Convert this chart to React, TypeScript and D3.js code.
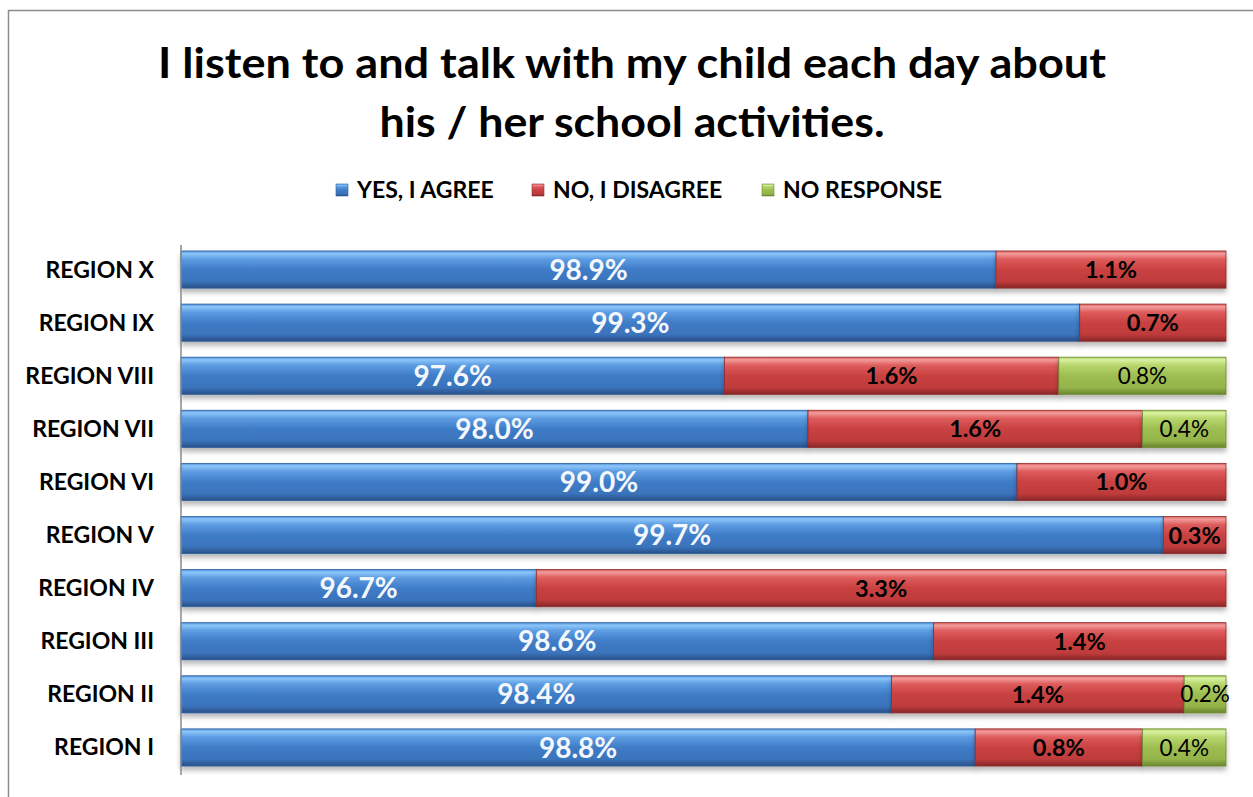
import React from "react";
import * as d3 from "d3";

const categories = ["REGION I", "REGION II", "REGION III", "REGION IV", "REGION V", "REGION VI", "REGION VII", "REGION VIII", "REGION IX", "REGION X"];
const yesValues = [98.8, 98.4, 98.6, 96.7, 99.7, 99.0, 98.0, 97.6, 99.3, 98.9];
const noValues = [0.8, 1.4, 1.4, 3.3, 0.3, 1.0, 1.6, 1.6, 0.7, 1.1];
const noResponseValues = [0.4, 0.2, 0, 0, 0, 0, 0.4, 0.8, 0, 0];
const seriesNames = ["YES, I AGREE", "NO, I DISAGREE", "NO RESPONSE"];
const seriesKeys = ["yes", "no", "nr"];
const xDomain = [95, 100];
const titleLines = ["I listen to and talk with my child each day about", "his / her school activities."];

const W = 1253;
const H = 797;
const FONT = "Lato, 'Open Sans', sans-serif";

const gradients: Record<string, string[][]> = {
  yes: [["0", "#4f8fd8"], ["0.07", "#8cc6fa"], ["0.22", "#5d9ce2"], ["0.5", "#3f7cc7"], ["0.82", "#3a73bb"], ["1", "#294f86"]],
  no: [["0", "#d85a5a"], ["0.07", "#f39c9c"], ["0.22", "#de5c5c"], ["0.5", "#c94141"], ["0.82", "#bf3b3b"], ["1", "#862727"]],
  nr: [["0", "#a9cc5e"], ["0.07", "#d9f2a2"], ["0.22", "#b7d66c"], ["0.5", "#9ebd52"], ["0.82", "#94b44a"], ["1", "#6a852e"]],
};
const strokeCol: Record<string, string> = { yes: "#2f5f9e", no: "#8e2c2c", nr: "#6f8a32" };

export default function App() {
  const table = categories.map((c, i) => ({ cat: c, yes: yesValues[i], no: noValues[i], nr: noResponseValues[i] }));
  const stack = d3.stack<any>().keys(seriesKeys);
  const stacked = stack(table);

  const x = d3.scaleLinear().domain(xDomain).range([181, 1226]);
  const y = d3.scaleBand<string>().domain([...categories].reverse()).range([243, 774]).paddingInner(0.3).paddingOuter(0.15);
  const bw = y.bandwidth();

  const labelStyle: Record<string, any> = {
    yes: { fill: "#f4f8fc", fontWeight: 700, fontSize: 28 },
    no: { fill: "#000000", fontWeight: 700, fontSize: 23.5 },
    nr: { fill: "#000000", fontWeight: 400, fontSize: 22.5 },
  };

  const legendItems = [
    { key: "yes", x: 336 },
    { key: "no", x: 532 },
    { key: "nr", x: 762 },
  ];

  return (
    <svg width={W} height={H} style={{ position: "absolute", left: 0, top: 0, background: "#fff" }} fontFamily={FONT}>
      <defs>
        {seriesKeys.map((k) => (
          <linearGradient key={k} id={"g-" + k} x1="0" y1="0" x2="0" y2="1">
            {gradients[k].map(([o, c]) => (
              <stop key={o} offset={o} stopColor={c} />
            ))}
          </linearGradient>
        ))}
        <filter id="shadow" x="-5%" y="-20%" width="110%" height="160%">
          <feDropShadow dx="0" dy="4" stdDeviation="2.5" floodColor="#000" floodOpacity="0.28" />
        </filter>
      </defs>
      <rect x={8.5} y={10.5} width={W + 20} height={H + 20} fill="#fff" stroke="#8c8c8c" strokeWidth={1.5} />

      {titleLines.map((t, i) => (
        <text key={i} x={632} y={78 + i * 59} textAnchor="middle" fontSize={42} fontWeight={700} fill="#000"
          textLength={i === 0 ? 948 : 505} lengthAdjust="spacingAndGlyphs">
          {t}
        </text>
      ))}

      {legendItems.map((li, i) => (
        <g key={li.key}>
          <rect x={li.x} y={184} width={12} height={12} fill={"url(#g-" + li.key + ")"} stroke={strokeCol[li.key]} strokeWidth={0.6} />
          <text x={li.x + 21} y={198} fontSize={23} fontWeight={700} fill="#000">{seriesNames[i]}</text>
        </g>
      ))}

      <g>
        {stacked.map((s) => (
          <g key={s.key}>
            {s.map((d: any) => {
              const v = d[1] - d[0];
              if (v <= 0) return null;
              const x0 = x(Math.max(d[0], xDomain[0]));
              const x1 = x(Math.min(d[1], xDomain[1]));
              return (
                <rect key={d.data.cat} x={x0} y={y(d.data.cat)} width={Math.max(0, x1 - x0)} height={bw}
                  fill={"url(#g-" + s.key + ")"} stroke={strokeCol[s.key]} strokeWidth={0.8} filter="url(#shadow)" />
              );
            })}
          </g>
        ))}
      </g>

      <line x1={181} x2={181} y1={245} y2={775} stroke="#8a8a8a" strokeWidth={1.5} />

      {categories.map((c) => (
        <text key={c} x={154} y={(y(c) as number) + bw / 2 + 8} textAnchor="end" fontSize={23} fontWeight={700} fill="#000">
          {c}
        </text>
      ))}

      {stacked.map((s) => (
        <g key={"l" + s.key}>
          {s.map((d: any) => {
            const v = d[1] - d[0];
            if (v <= 0) return null;
            const x0 = x(Math.max(d[0], xDomain[0]));
            const x1 = x(Math.min(d[1], xDomain[1]));
            const st = labelStyle[s.key];
            return (
              <text key={d.data.cat} x={(x0 + x1) / 2} y={(y(d.data.cat) as number) + bw / 2 + st.fontSize * 0.36}
                textAnchor="middle" fontSize={st.fontSize} fontWeight={st.fontWeight} fill={st.fill}>
                {v.toFixed(1) + "%"}
              </text>
            );
          })}
        </g>
      ))}
    </svg>
  );
}
